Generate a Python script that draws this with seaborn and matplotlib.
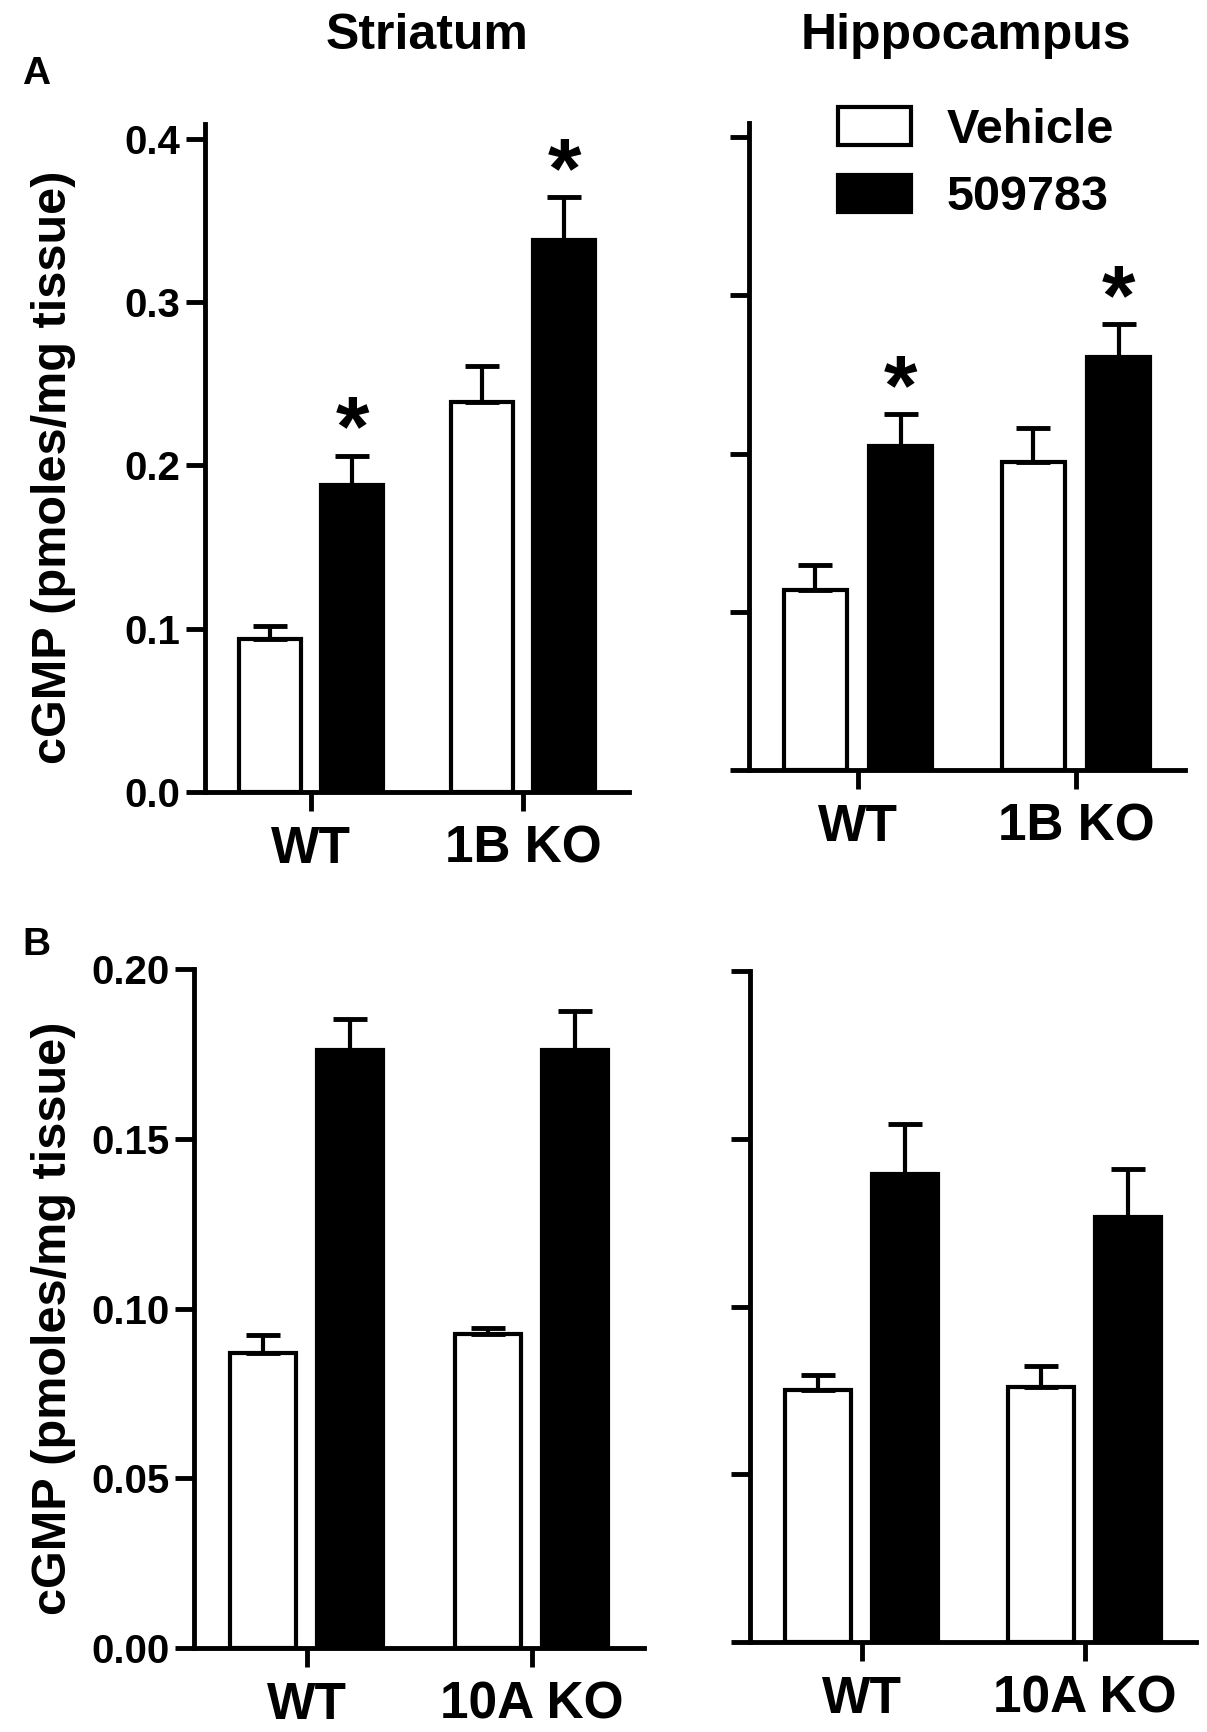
import numpy as np
import pandas as pd
import matplotlib
matplotlib.use("Agg")
import matplotlib.pyplot as plt
import seaborn as sns
from matplotlib.patches import Patch
from matplotlib.ticker import FormatStrFormatter

# =============================
# DATA
# =============================
treatments = ["Vehicle", "509783"]
genotypes_a = ["WT", "1B KO"]
genotypes_b = ["WT", "10A KO"]

# panel A - striatum
str_a_veh = [0.0936, 0.239]
str_a_veh_sem = [0.008, 0.022]
str_a_drug = [0.188, 0.338]
str_a_drug_sem = [0.018, 0.026]

# panel A - hippocampus
hip_a_veh = [0.114, 0.195]
hip_a_veh_sem = [0.0155, 0.021]
hip_a_drug = [0.205, 0.261]
hip_a_drug_sem = [0.020, 0.021]

# panel B - striatum
str_b_veh = [0.0868, 0.0926]
str_b_veh_sem = [0.0055, 0.0018]
str_b_drug = [0.176, 0.176]
str_b_drug_sem = [0.0094, 0.0115]

# panel B - hippocampus
hip_b_veh = [0.0752, 0.076]
hip_b_veh_sem = [0.0045, 0.0064]
hip_b_drug = [0.1396, 0.1267]
hip_b_drug_sem = [0.0148, 0.0143]

# which drug bars get an asterisk
stars_a = [0, 1]
stars_b = []

yticks_a = [0.0, 0.1, 0.2, 0.3, 0.4]
yticks_b = [0.0, 0.05, 0.10, 0.15, 0.20]

ylabel = "cGMP (pmoles/mg tissue)"

# =============================
# STYLE
# =============================
sns.set_style("ticks", {"axes.edgecolor": "black", "xtick.color": "black",
                        "ytick.color": "black", "text.color": "black"})
plt.rcParams["font.family"] = ["Liberation Sans", "DejaVu Sans"]
plt.rcParams["font.weight"] = "bold"

W, H = 1207, 1732
fig = plt.figure(figsize=(W / 100, H / 100), dpi=100)


def px_axes(x0, x1, y_top, y_bot):
    return fig.add_axes([x0 / W, 1 - y_bot / H, (x1 - x0) / W, (y_bot - y_top) / H])


def draw(ax, genos, veh, veh_sem, drug, drug_sem, stars, yticks, ylim, labels, ymin_fmt):
    df = pd.DataFrame({
        "genotype": genos * 2,
        "treatment": [treatments[0]] * len(genos) + [treatments[1]] * len(genos),
        "cgmp": veh + drug,
    })
    sns.barplot(data=df, x="genotype", y="cgmp", hue="treatment",
                order=genos, hue_order=treatments,
                palette=["white", "black"], saturation=1,
                edgecolor="black", linewidth=3,
                width=0.78, gap=0.25, errorbar=None, legend=False, ax=ax)

    # upper-only error bars
    for cont, means, sems in zip(ax.containers, [veh, drug], [veh_sem, drug_sem]):
        xs = [p.get_x() + p.get_width() / 2 for p in cont.patches]
        ax.errorbar(xs, means, yerr=[np.zeros(len(means)), sems], fmt="none",
                    ecolor="black", elinewidth=3, capsize=12, capthick=3.5, zorder=1)
        if means is drug:
            for i in stars:
                ax.text(xs[i], drug[i] + drug_sem[i], "*", ha="center", va="baseline",
                        fontsize=62, fontweight="bold", color="black")

    ax.set_xlim(-0.5, 1.5)
    ax.set_ylim(*ylim)
    ax.set_yticks(yticks)
    ax.yaxis.set_major_formatter(FormatStrFormatter(ymin_fmt))
    if not labels:
        ax.set_yticklabels([])
    ax.set_xlabel("")
    ax.set_ylabel("")
    sns.despine(ax=ax)
    for s in ["left", "bottom"]:
        ax.spines[s].set_linewidth(3.5)
        ax.spines[s].set_color("black")
    ax.tick_params(axis="both", width=3.5, length=13.5, direction="out", colors="black")
    ax.tick_params(axis="y", labelsize=29, pad=4)
    ax.tick_params(axis="x", labelsize=37, pad=10)
    for t in ax.get_xticklabels() + ax.get_yticklabels():
        t.set_fontweight("bold")


ax_a1 = px_axes(205, 629, 124, 792)
ax_a2 = px_axes(749, 1185, 123, 770)
ax_b1 = px_axes(194, 644, 969, 1648)
ax_b2 = px_axes(750, 1196, 971, 1642)

draw(ax_a1, genotypes_a, str_a_veh, str_a_veh_sem, str_a_drug, str_a_drug_sem,
     stars_a, yticks_a, (0, 0.409), True, "%.1f")
draw(ax_a2, genotypes_a, hip_a_veh, hip_a_veh_sem, hip_a_drug, hip_a_drug_sem,
     stars_a, yticks_a, (0, 0.409), False, "%.1f")
draw(ax_b1, genotypes_b, str_b_veh, str_b_veh_sem, str_b_drug, str_b_drug_sem,
     stars_b, yticks_b, (0, 0.20), True, "%.2f")
draw(ax_b2, genotypes_b, hip_b_veh, hip_b_veh_sem, hip_b_drug, hip_b_drug_sem,
     stars_b, yticks_b, (0, 0.20), False, "%.2f")

# legend in the hippocampus panel
handles = [Patch(facecolor="white", edgecolor="black", linewidth=3),
           Patch(facecolor="black", edgecolor="black", linewidth=3)]
fig.legend(handles, treatments, loc="upper left",
           bbox_to_anchor=(838 / W, 1 - 107 / H), frameon=False,
           prop={"size": 35, "weight": "bold"}, borderpad=0, borderaxespad=0,
           handlelength=1.5, handleheight=0.82, handletextpad=0.74, labelspacing=0.45)

# titles, axis labels, panel letters
fig.text(427 / W, 1 - 49 / H, "Striatum", ha="center", va="baseline", fontsize=36, fontweight="bold")
fig.text(966 / W, 1 - 49 / H, "Hippocampus", ha="center", va="baseline", fontsize=36, fontweight="bold")
fig.text(54 / W, 1 - 467 / H, ylabel, rotation=90, ha="center", va="center", fontsize=35, fontweight="bold")
fig.text(54 / W, 1 - 1318 / H, ylabel, rotation=90, ha="center", va="center", fontsize=35, fontweight="bold")
fig.text(22 / W, 1 - 84 / H, "A", ha="left", va="baseline", fontsize=28, fontweight="bold")
fig.text(22 / W, 1 - 955 / H, "B", ha="left", va="baseline", fontsize=28, fontweight="bold")

fig.savefig("out.png", dpi=100)
